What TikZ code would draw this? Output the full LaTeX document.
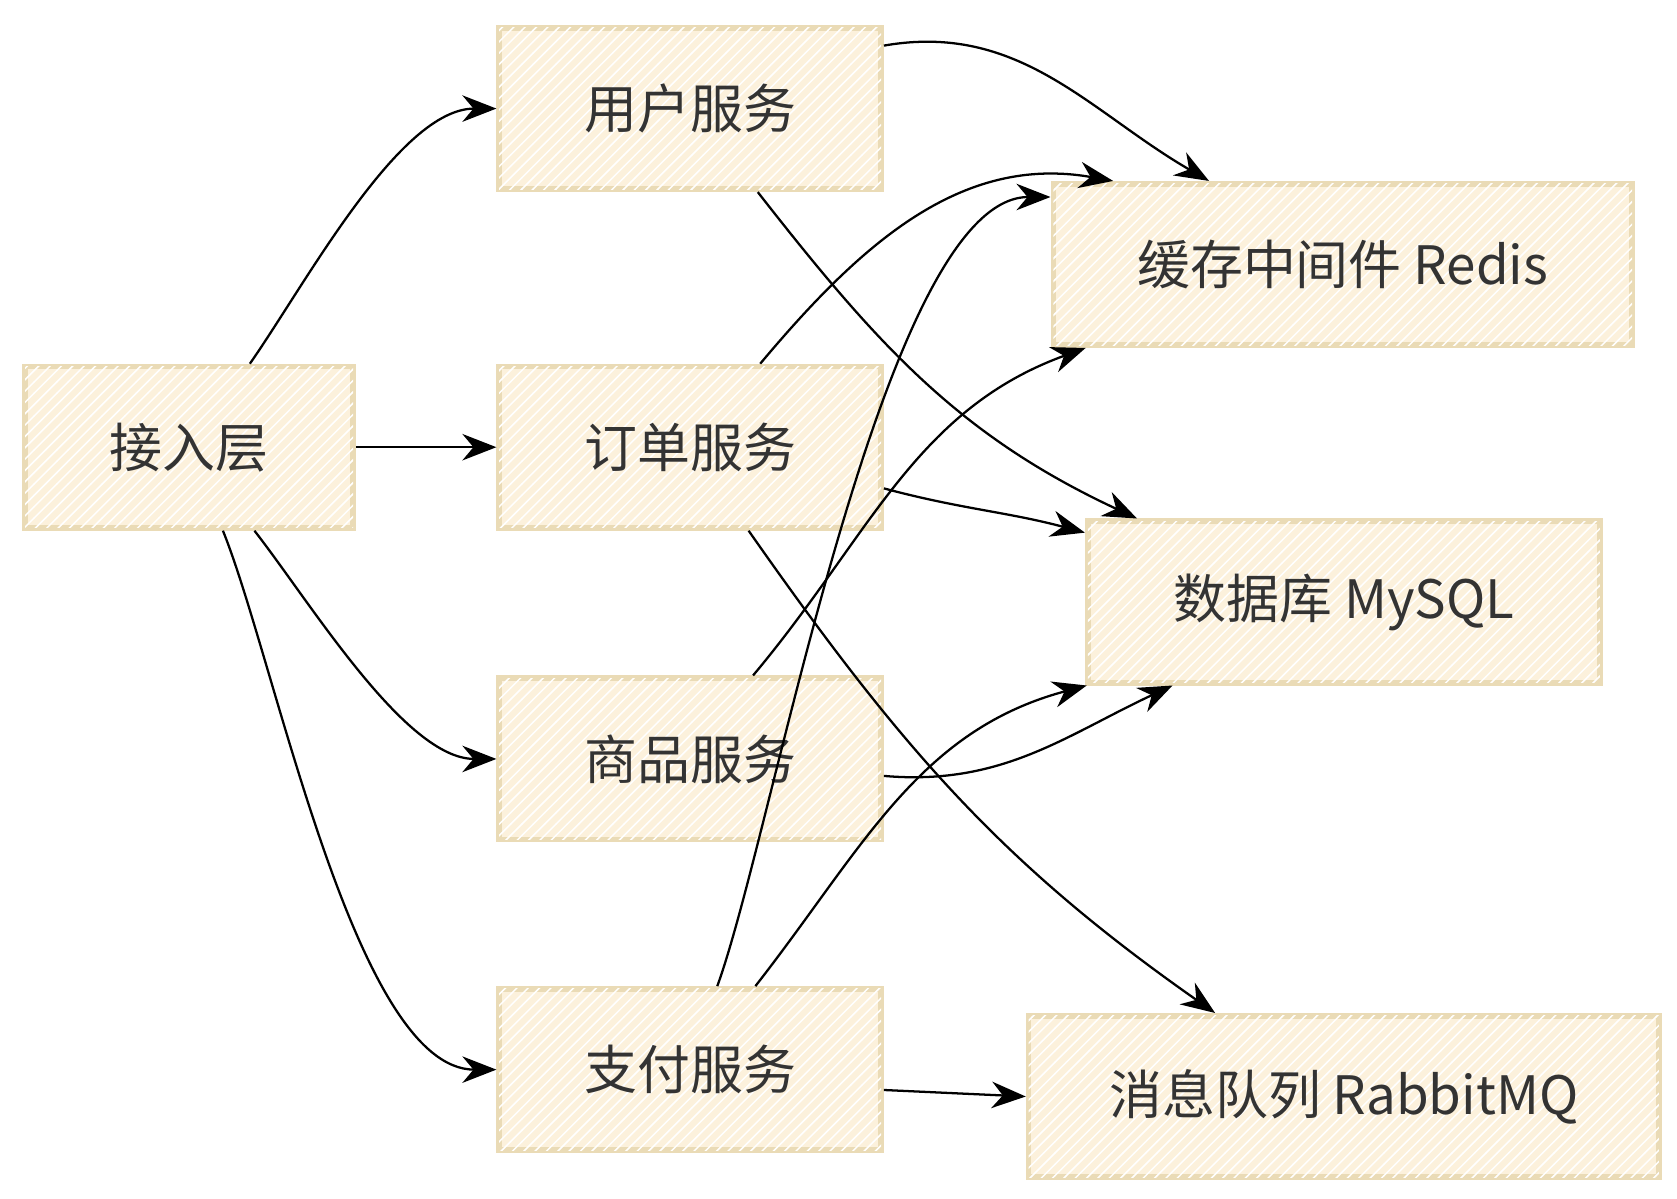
\documentclass[tikz,border=0pt]{standalone}
\usepackage{fontspec}
\setmainfont{Noto Sans CJK SC}
\usetikzlibrary{patterns}
\usetikzlibrary{arrows.meta}
\definecolor{boxline}{HTML}{EADBB6}
\definecolor{boxfill}{HTML}{FCF1DC}
\tikzset{x=0.01cm,y=-0.01cm,
    every node/.style={font=\fontsize{14}{16}\selectfont,text=black!80},
    svc/.style={
        draw=boxline,line width=1.5pt,
        fill=boxfill,
        postaction={pattern=north east lines,pattern color=white},
        minimum width=3.55cm,minimum height=1.5cm},
    link/.style={
        draw,-{Stealth[length=9pt,width=7pt]},
        semithick}}
\begin{document}
\begin{tikzpicture}
        \useasboundingbox (0,0) rectangle (1560,1115);
        \node[svc,minimum width=3.05cm] (acc) at (176,416) {接入层};
        \node[svc] (usr) at (642,101) {用户服务};
        \node[svc] (ord) at (642,416) {订单服务};
        \node[svc] (prd) at (642,706) {商品服务};
        \node[svc] (pay) at (642,995) {支付服务};
        \node[svc,minimum width=5.38cm] (rds) at (1249,246) {缓存中间件 Redis};
        \node[svc,minimum width=4.76cm] (sql) at (1250,560) {数据库 MySQL};
        \node[svc,minimum width=5.86cm] (mq) at (1250,1020) {消息队列 RabbitMQ};

        \draw[link] (acc.54) to[out=55,in=180,looseness=0.7] (usr.west);
        \draw[link] (acc.east) -- (ord.west);
        \draw[link] (acc.-52) to[out=-52,in=180,looseness=0.7] (prd.west);
        \draw[link] (acc.-68) to[out=-68,in=180,looseness=0.6] (pay.west);

        \draw[link] (usr.18) to[out=10,in=150] (rds.148);
        \draw[link] (usr.-51) to[out=-52,in=155] (sql.158);
        \draw[link] (ord.50) to[out=50,in=170] (rds.160);
        \draw[link] (ord.-12) to[out=-15,in=165] (sql.165);
        \draw[link] (ord.-55) to[out=-55,in=145] (mq.147);
        \draw[link] (prd.53) to[out=50,in=200] (rds.198);
        \draw[link] (prd.-5) to[out=-5,in=205] (sql.206);
        \draw[link] (pay.72) to[out=70,in=180,looseness=0.5] (rds.167);
        \draw[link] (pay.52) to[out=52,in=195] (sql.198);
        \draw[link] (pay.-6) -- (mq.west);
    \end{tikzpicture}
\end{document}
